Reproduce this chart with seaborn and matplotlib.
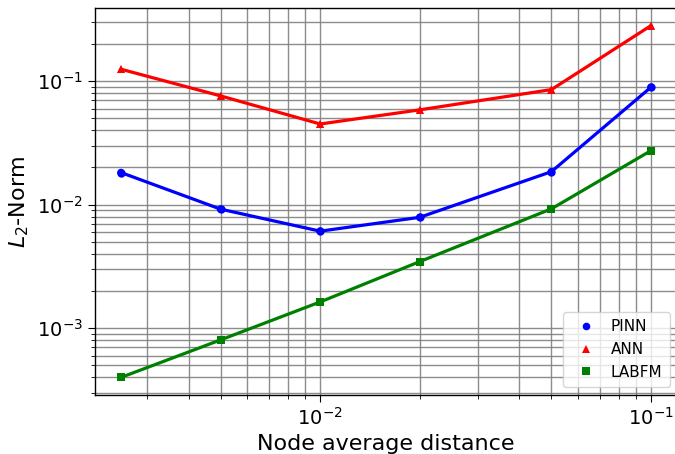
import matplotlib
matplotlib.use("Agg")
import matplotlib.pyplot as plt
import seaborn as sns
import pandas as pd

distance = [0.0025, 0.005, 0.01, 0.02, 0.05, 0.1]
pinn = [0.0182, 0.0092, 0.0061, 0.0079, 0.0185, 0.0894]
ann = [0.125, 0.076, 0.045, 0.0586, 0.0855, 0.282]
labfm = [0.000399, 0.000803, 0.00163, 0.00346, 0.00925, 0.0274]
methods = ["PINN", "ANN", "LABFM"]
colors = ["blue", "red", "green"]
markers = ["o", "^", "s"]

rows = []
for name, vals in zip(methods, [pinn, ann, labfm]):
    for d, v in zip(distance, vals):
        rows.append({"d": d, "err": v, "method": name})
df = pd.DataFrame(rows)

sns.set_style("ticks")
plt.rcParams["font.family"] = ["DejaVu Sans"]
plt.rcParams.update({"text.color": "black", "axes.labelcolor": "black",
                     "xtick.color": "black", "ytick.color": "black"})

fig = plt.figure(figsize=(6.75, 4.54), dpi=100)
ax = fig.add_axes([94.5 / 675, 59 / 454, 583 / 675, 387 / 454])

sns.lineplot(data=df, x="d", y="err", hue="method", style="method",
             hue_order=methods, style_order=methods,
             palette=colors, markers=markers, dashes=False,
             linewidth=2.3, markersize=6, markeredgewidth=0,
             legend=False, ax=ax)
sns.scatterplot(data=df, x="d", y="err", hue="method", style="method",
                hue_order=methods, style_order=methods,
                palette=colors, markers=markers, s=30, linewidth=0,
                legend=True, ax=ax)

ax.set_xscale("log")
ax.set_yscale("log")
ax.grid(True, which="both", color="gray", linewidth=1.0, alpha=0.9)
ax.set_axisbelow(True)
ax.tick_params(axis="both", which="major", labelsize=14, length=5, direction="out")
ax.tick_params(axis="both", which="minor", length=3, direction="out")
for s in ax.spines.values():
    s.set_color("black")
    s.set_linewidth(1.0)

ax.set_xlabel("Node average distance", fontsize=16)
ax.set_ylabel("$L_2$-Norm", fontsize=16)

leg = ax.legend(loc="lower right", fontsize=11, framealpha=0.8,
                handletextpad=0.6, borderpad=0.5)

fig.savefig("out.png", dpi=100)
